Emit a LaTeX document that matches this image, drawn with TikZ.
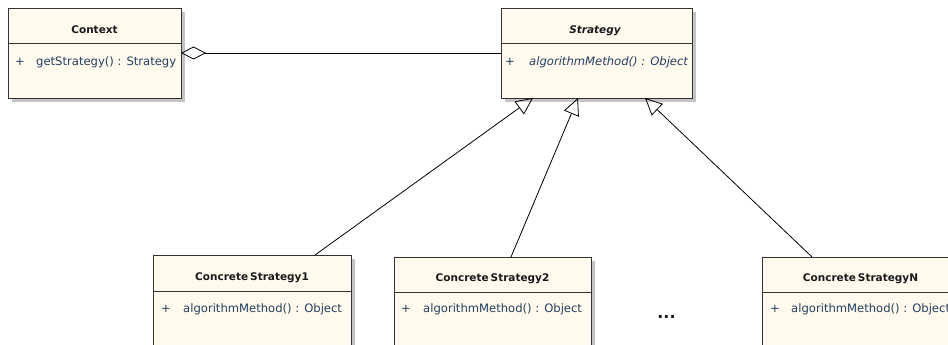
\documentclass[tikz,border=0pt]{standalone}
\usepackage{fontspec}
\setmainfont{DejaVu Sans}
\usetikzlibrary{arrows.meta,shadows}
\definecolor{fillc}{HTML}{FFF9EE}
\definecolor{edgec}{HTML}{333333}
\definecolor{shadowc}{HTML}{C4C4C4}
\definecolor{methc}{HTML}{24405E}
\definecolor{titlec}{HTML}{1A1A1A}
\begin{document}
\begin{tikzpicture}[x=1pt,y=-1pt,
  classbox/.style={draw=edgec, line width=0.9pt, fill=fillc, anchor=north west,
    inner sep=0pt, outer sep=0pt,
    drop shadow={shadow xshift=4pt, shadow yshift=-4pt, fill=shadowc, opacity=1}},
  divider/.style={draw=edgec, line width=0.9pt},
  titletext/.style={font=\fontsize{10.5}{12}\selectfont\bfseries, text=titlec, anchor=base, inner sep=0pt},
  methtext/.style={font=\fontsize{11.6}{13}\selectfont, text=methc, anchor=base west, inner sep=0pt},
  gen/.style={draw=black, line width=0.8pt, -{Triangle[open, length=17pt, width=16pt]}},
  agg/.style={draw=black, line width=0.8pt, {Diamond[open, length=25pt, width=13pt]}-}
]
\path[use as bounding box] (0,0) rectangle (948,345);
\clip (0,0) rectangle (948,345);
\fill[white] (0,0) rectangle (948,345);

% Context
\node[classbox, minimum width=173pt, minimum height=90pt] (ctx) at (8,8) {};
\draw[divider] ([yshift=-35pt]ctx.north west) -- ([yshift=-35pt]ctx.north east);
\node[titletext] (ctxT) at (94.5,33.5) {Context};
\node[methtext] (ctxP) at (15,66) {+};
\node[methtext] (ctxM) at (36,66) {getStrategy() : Strategy};

% Strategy
\node[classbox, minimum width=191pt, minimum height=90pt] (strat) at (501,8) {};
\draw[divider] ([yshift=-35pt]strat.north west) -- ([yshift=-35pt]strat.north east);
\node[titletext, font=\fontsize{10.5}{12}\selectfont\bfseries\itshape] (stratT) at (595,33.5) {Strategy};
\node[methtext, font=\fontsize{11.6}{13}\selectfont\itshape] (stratP) at (505,66) {+};
\node[methtext, font=\fontsize{11.6}{13}\selectfont\itshape] (stratM) at (529,66) {algorithmMethod() : Object};

% ConcreteStrategy1
\node[classbox, minimum width=198pt, minimum height=115pt] (cs1) at (153,255) {};
\draw[divider] ([yshift=-36pt]cs1.north west) -- ([yshift=-36pt]cs1.north east);
\node[titletext] (cs1T) at (252,280) {Concrete\hspace{2pt}Strategy1};
\node[methtext] (cs1P) at (161,312) {+};
\node[methtext] (cs1M) at (183,312) {algorithmMethod() : Object};

% ConcreteStrategy2
\node[classbox, minimum width=197pt, minimum height=113pt] (cs2) at (394,257) {};
\draw[divider] ([yshift=-35pt]cs2.north west) -- ([yshift=-35pt]cs2.north east);
\node[titletext] (cs2T) at (492.5,281) {Concrete\hspace{2pt}Strategy2};
\node[methtext] (cs2P) at (401,312) {+};
\node[methtext] (cs2M) at (423,312) {algorithmMethod() : Object};

% ConcreteStrategyN
\node[classbox, minimum width=197pt, minimum height=113pt] (csN) at (762,257) {};
\draw[divider] ([yshift=-35pt]csN.north west) -- ([yshift=-35pt]csN.north east);
\node[titletext] (csNT) at (860.5,281) {Concrete\hspace{2pt}StrategyN};
\node[methtext] (csNP) at (770,312) {+};
\node[methtext] (csNM) at (791,312) {algorithmMethod() : Object};

% ellipsis
\node[font=\fontsize{16}{18}\selectfont\bfseries, text=titlec, anchor=base, inner sep=0pt] (dots) at (666.5,318) {...};

% connectors
\draw[agg] (ctx.east) -- (strat.west);
\draw[gen] ([xshift=162pt]cs1.north west) -- ([xshift=32pt]strat.south west);
\draw[gen] ([xshift=117pt]cs2.north west) -- ([xshift=77pt]strat.south west);
\draw[gen] ([xshift=50pt]csN.north west) -- ([xshift=144pt]strat.south west);
\end{tikzpicture}
\end{document}
